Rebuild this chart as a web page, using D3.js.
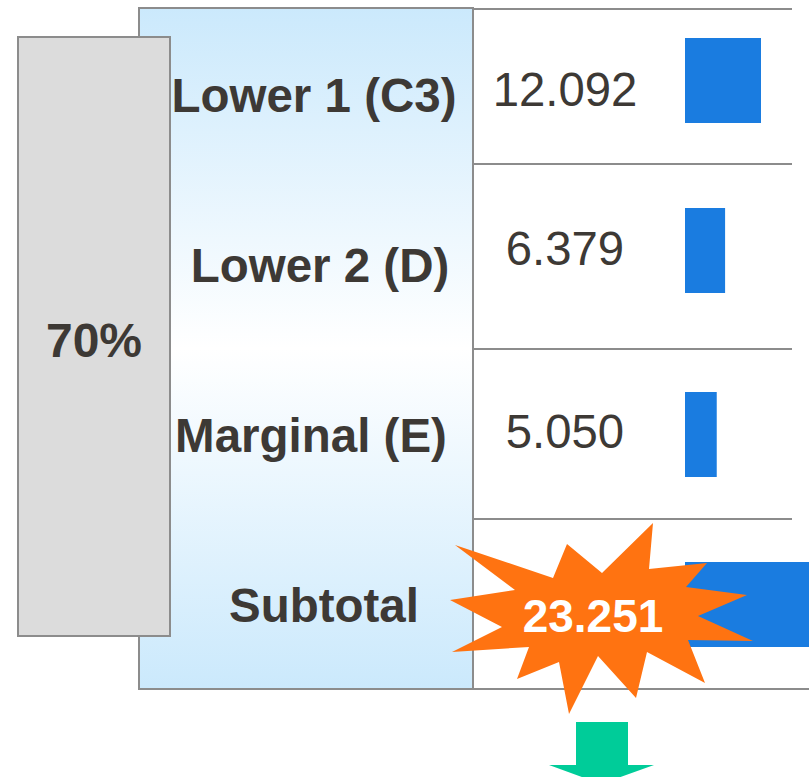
<!DOCTYPE html>
<html>
<head>
<meta charset="utf-8">
<script src="https://cdn.jsdelivr.net/npm/d3@7"></script>
<style>
  body { margin: 0; background: #fff; }
  svg { display: block; }
</style>
</head>
<body>
<svg id="chart" width="809" height="777"></svg>
<script>
const categories = ['Lower 1 (C3)', 'Lower 2 (D)', 'Marginal (E)', 'Subtotal']
const values = [12.092, 6.379, 5.050, 23.251]
const valueLabels = ['12.092', '6.379', '5.050', '23.251']
const shareLabel = '70%'

// layout tweaks (the source table rows are not perfectly even)
const barShift = [-14, -14, 0, 0]
const valueShift = [12, 1, 14]
const labelX = [314, 320, 311, 324]
const dividers = [164, 349, 519]

// starburst outline, relative to its centre
const starShape = [
  [-33, -71], [2, -42], [53, -92], [49, -46], [107, -52], [86, -28],
  [147, -20], [98, 1], [153, 26], [88, 25], [105, 68], [47, 37],
  [36, 83], [-2, 41], [-31, 99], [-41, 47], [-83, 64], [-71, 32],
  [-148, 37], [-98, 12], [-150, -15], [-85, -25], [-145, -70], [-47, -37]
]

const svg = d3.select('#chart')
const W = +svg.attr('width')
const FONT = '"Liberation Sans", Arial, sans-serif'
const TEXT = '#3d3935'
const LINE = '#8c8c8c'

const y = d3.scaleBand()
  .domain(categories)
  .range([9, 689])
  .paddingInner(0)

const x = d3.scaleLinear()
  .domain([0, values[0]])
  .range([685, 761])

// gradient for the label panel
const defs = svg.append('defs')
const grad = defs.append('linearGradient')
  .attr('id', 'panelGrad')
  .attr('x1', 0).attr('y1', 0).attr('x2', 0).attr('y2', 1)
grad.append('stop').attr('offset', '0%').attr('stop-color', '#cbe9fc')
grad.append('stop').attr('offset', '50%').attr('stop-color', '#ffffff')
grad.append('stop').attr('offset', '100%').attr('stop-color', '#cbe9fc')

// table lines on the right
svg.append('line')
  .attr('x1', 473).attr('x2', 792)
  .attr('y1', 9).attr('y2', 9)
  .attr('stroke', LINE).attr('stroke-width', 2)

svg.selectAll('.divider')
  .data(dividers)
  .join('line')
  .attr('class', 'divider')
  .attr('x1', 473).attr('x2', 792)
  .attr('y1', d => d).attr('y2', d => d)
  .attr('stroke', LINE).attr('stroke-width', 2)

svg.append('line')
  .attr('x1', 139).attr('x2', W)
  .attr('y1', 689).attr('y2', 689)
  .attr('stroke', LINE).attr('stroke-width', 2)

// label panel
svg.append('rect')
  .attr('x', 139).attr('y', 8)
  .attr('width', 334).attr('height', 681)
  .attr('fill', 'url(#panelGrad)')
  .attr('stroke', LINE).attr('stroke-width', 2)

// grey share box
svg.append('rect')
  .attr('x', 18).attr('y', 37)
  .attr('width', 152).attr('height', 599)
  .attr('fill', '#dcdcdc')
  .attr('stroke', LINE).attr('stroke-width', 2)

svg.append('text')
  .attr('x', 94).attr('y', 357)
  .attr('text-anchor', 'middle')
  .attr('font-family', FONT).attr('font-weight', 'bold')
  .attr('font-size', 48).attr('fill', TEXT)
  .text(shareLabel)

// category labels
svg.selectAll('.cat')
  .data(categories)
  .join('text')
  .attr('class', 'cat')
  .attr('x', (d, i) => labelX[i])
  .attr('y', d => y(d) + y.bandwidth() / 2 + 18)
  .attr('text-anchor', 'middle')
  .attr('font-family', FONT).attr('font-weight', 'bold')
  .attr('font-size', 47.5).attr('fill', TEXT)
  .text(d => d)

// bars
svg.selectAll('.bar')
  .data(values)
  .join('rect')
  .attr('class', 'bar')
  .attr('x', x(0))
  .attr('y', (d, i) => y(categories[i]) + y.bandwidth() / 2 - 42 + barShift[i])
  .attr('width', d => x(d) - x(0))
  .attr('height', 85)
  .attr('fill', '#1a7ce0')

// value labels for the first three rows
svg.selectAll('.val')
  .data(valueLabels.slice(0, 3))
  .join('text')
  .attr('class', 'val')
  .attr('x', 565)
  .attr('y', (d, i) => y(categories[i]) + y.bandwidth() / 2 + valueShift[i])
  .attr('text-anchor', 'middle')
  .attr('font-family', FONT)
  .attr('font-size', 47.3).attr('fill', TEXT)
  .text(d => d)

// starburst on the subtotal
const cx = 600
const cy = y(categories[3]) + y.bandwidth() / 2 + 11
svg.append('path')
  .attr('d', d3.line()(starShape.map(p => [cx + p[0], cy + p[1]])) + 'Z')
  .attr('fill', '#ff7311')

svg.append('text')
  .attr('x', 593).attr('y', cy + 17)
  .attr('text-anchor', 'middle')
  .attr('font-family', FONT).attr('font-weight', 'bold')
  .attr('font-size', 46).attr('fill', '#ffffff')
  .text(valueLabels[3])

// green down arrow
const arrow = [[576, 722], [628, 722], [628, 765], [654, 765], [601, 784],
  [549, 765], [576, 765]]
svg.append('path')
  .attr('d', d3.line()(arrow) + 'Z')
  .attr('fill', '#00cc99')
</script>
</body>
</html>
